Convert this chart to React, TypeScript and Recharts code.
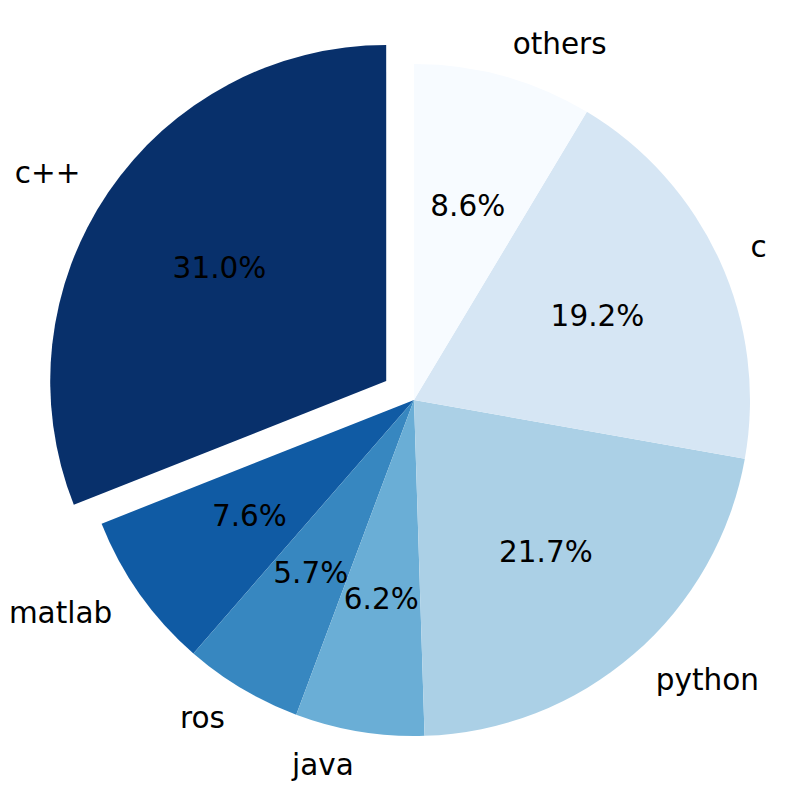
import { PieChart, Pie, Cell } from 'recharts';

const languages = ['c++', 'matlab', 'ros', 'java', 'python', 'c', 'others'];
const shares = [31.0, 7.6, 5.7, 6.2, 21.7, 19.2, 8.6];
const blues = ['#08306b', '#105ba4', '#3787c0', '#6aaed6', '#abd0e6', '#d6e6f4', '#f7fbff'];
const explodedIndex = 0;

const data = languages.map((name, i) => ({ name, value: shares[i] }));

const W = 802;
const H = 787;
const CX = 414;
const CY = 400;
const R = 336;
const FONT = '"DejaVu Sans", sans-serif';
const FS = 29.5;
const RAD = Math.PI / 180;

// shift of the exploded wedge: 10% of the radius along its mid angle
const explodedMid = 90 + (shares.slice(0, explodedIndex).reduce((a, b) => a + b, 0) + shares[explodedIndex] / 2) * 3.6;
const EX = CX + 0.1 * R * Math.cos(explodedMid * RAD);
const EY = CY - 0.1 * R * Math.sin(explodedMid * RAD);

function makeLabel(show: (i: number) => boolean) {
  return (p: any) => {
    if (!show(p.index)) return <g key={`l-${p.index}`} />;
    const a = p.midAngle * RAD;
    const cos = Math.cos(a);
    const sin = Math.sin(a);
    const r = p.outerRadius;
    const lx = p.cx + 1.1 * r * cos;
    const ly = p.cy - 1.1 * r * sin;
    const px = p.cx + 0.6 * r * cos;
    const py = p.cy - 0.6 * r * sin;
    return (
      <g key={`l-${p.index}`}>
        <text x={lx} y={ly} textAnchor={cos >= 0 ? 'start' : 'end'} dominantBaseline="central"
          fontFamily={FONT} fontSize={FS} fill="#000">{p.name}</text>
        <text x={px} y={py} textAnchor="middle" dominantBaseline="central"
          fontFamily={FONT} fontSize={FS} fill="#000">{(p.percent * 100).toFixed(1)}%</text>
      </g>
    );
  };
}

export default function App() {
  return (
    <div style={{ position: 'absolute', left: 0, top: 0, background: '#fff' }}>
      <PieChart width={W} height={H} margin={{ top: 0, right: 0, bottom: 0, left: 0 }}>
        <Pie data={data} dataKey="value" nameKey="name" cx={CX} cy={CY} outerRadius={R}
          startAngle={90} endAngle={450} stroke="none" isAnimationActive={false}
          labelLine={false} label={makeLabel(i => i !== explodedIndex)}>
          {data.map((_, i) => <Cell key={i} fill={i === explodedIndex ? 'none' : blues[i]} />)}
        </Pie>
        <Pie data={data} dataKey="value" nameKey="name" cx={EX} cy={EY} outerRadius={R}
          startAngle={90} endAngle={450} stroke="none" isAnimationActive={false}
          labelLine={false} label={makeLabel(i => i === explodedIndex)}>
          {data.map((_, i) => <Cell key={i} fill={i === explodedIndex ? blues[i] : 'none'} />)}
        </Pie>
      </PieChart>
    </div>
  );
}
